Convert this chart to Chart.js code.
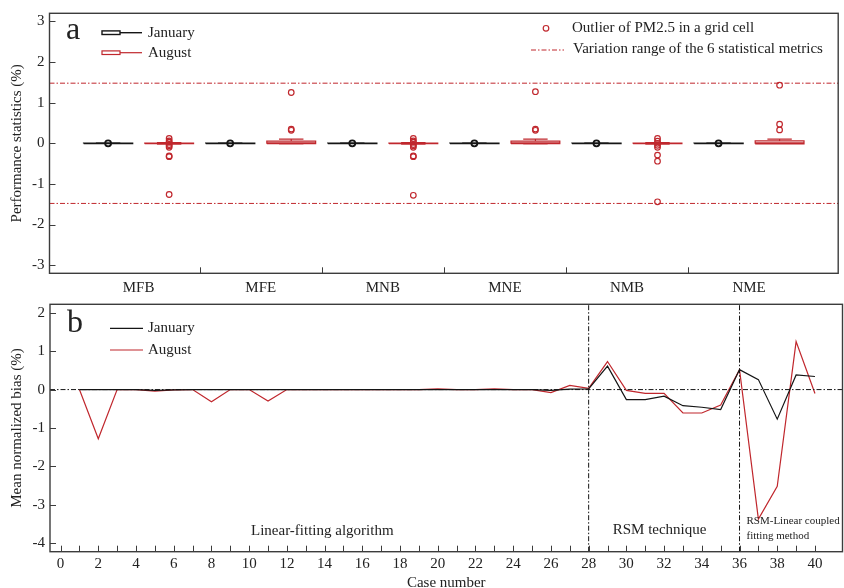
<!DOCTYPE html>
<html><head><meta charset="utf-8">
<script src="https://cdn.jsdelivr.net/npm/chart.js@4.4.1/dist/chart.umd.min.js"></script>
<style>
html,body{margin:0;padding:0;background:#fff;overflow:hidden;}
#wrap{position:relative;width:844px;height:588px;overflow:hidden;}
#c1{position:absolute;left:0;top:0;}
#c2{position:absolute;left:0;top:296px;}
</style></head><body>
<div id="wrap">
<canvas id="c1" width="844" height="296"></canvas>
<canvas id="c2" width="844" height="300"></canvas>
</div>
<script>
// ---------------- DATA: panel a (box plots) ----------------
const metrics = ['MFB','MFE','MNB','MNE','NMB','NME'];
const janLow  = [-0.006,-0.006,-0.006,-0.006,-0.006,-0.006];
const janQ1   = [-0.003,-0.003,-0.003,-0.003,-0.003,-0.003];
const janMed  = [0,0,0,0,0,0];
const janQ3   = [0.003,0.003,0.003,0.003,0.003,0.003];
const janHigh = [0.006,0.006,0.006,0.006,0.006,0.006];
const janOutliers = [[0],[0],[0],[0],[0],[0]];
const augLow  = [-0.02,-0.012,-0.02,-0.012,-0.02,-0.015];
const augQ1   = [-0.008,-0.01,-0.008,-0.01,-0.008,-0.012];
const augMed  = [0,0.012,0,0.012,0,0.012];
const augQ3   = [0.008,0.055,0.008,0.055,0.008,0.06];
const augHigh = [0.02,0.105,0.02,0.105,0.02,0.105];
const augOutliers = [
  [0.12,0.06,0.03,-0.03,-0.06,-0.1,-0.31,-0.33,-1.26],
  [1.25,0.35,0.32],
  [0.12,0.06,0.03,-0.03,-0.06,-0.1,-0.31,-0.33,-1.28],
  [1.27,0.35,0.32],
  [0.12,0.05,0,-0.05,-0.1,-0.29,-0.44,-1.44],
  [1.43,0.47,0.33]
];
const rangeLimits = [1.48,-1.48];
const yTicksA = [-3,-2,-1,0,1,2,3];

// ---------------- DATA: panel b (lines) ----------------
const caseNumbers = [1,2,3,4,5,6,7,8,9,10,11,12,13,14,15,16,17,18,19,20,21,22,23,24,25,26,27,28,29,30,31,32,33,34,35,36,37,38,39,40];
const janMNB = [0,0,0,0,-0.02,-0.01,0,0,0,0, 0,0,0,0,0,0,0,0,0,0, 0,0,0,0,0,-0.02,0.01,0.02,0.61,-0.26, -0.26,-0.17,-0.42,-0.46,-0.52,0.52,0.26,-0.77,0.38,0.34];
const augMNB = [0,-1.28,0,0,-0.04,-0.01,0,-0.32,0,0, -0.3,0,0,0,0,0,0,0,0,0.02, 0,0,0.02,0,0,-0.08,0.11,0.03,0.73,-0.02, -0.1,-0.1,-0.61,-0.61,-0.4,0.52,-3.37,-2.52,1.25,-0.1];
const methodBoundaries = [28,36];
const methodNames = ['Linear-fitting algorithm','RSM technique','RSM-Linear coupled','fitting method'];
const yTicksB = [-4,-3,-2,-1,0,1,2];

// ---------------- STYLE ----------------
const RED = '#c0272d', BLACK = '#151515', FRAME = '#3c3c3c', TXT = '#222';
const FONT = '"Liberation Serif","Times New Roman",serif';
Chart.defaults.font.family = FONT;
Chart.defaults.font.size = 15;
Chart.defaults.color = TXT;
const DASHDOT = [5,2,1.5,2];
const BOX_HALF = 0.2, CAP_HALF = 0.1, PAIR_OFF = 0.25;
const XA_MIN = 0.27, XA_MAX = 6.73;
const XB_MIN = -0.56, XB_MAX = 41.46;

function boxPath(off, low, q1, med, q3, high){
  const pts = [];
  metrics.forEach((m,i)=>{
    const c = i + 1 + off, gap = {x:c, y:null};
    pts.push({x:c-BOX_HALF,y:q1[i]},{x:c+BOX_HALF,y:q1[i]},{x:c+BOX_HALF,y:q3[i]},{x:c-BOX_HALF,y:q3[i]},{x:c-BOX_HALF,y:q1[i]},gap);
    pts.push({x:c-BOX_HALF,y:med[i]},{x:c+BOX_HALF,y:med[i]},gap);
    pts.push({x:c,y:q3[i]},{x:c,y:high[i]},gap,{x:c-CAP_HALF,y:high[i]},{x:c+CAP_HALF,y:high[i]},gap);
    pts.push({x:c,y:q1[i]},{x:c,y:low[i]},gap,{x:c-CAP_HALF,y:low[i]},{x:c+CAP_HALF,y:low[i]},gap);
  });
  return pts;
}
function outlierPts(off, arr){
  const pts = [];
  arr.forEach((vals,i)=>vals.forEach(v=>pts.push({x:i+1+off,y:v})));
  return pts;
}
function noPad(s){ s.paddingTop = 0; s.paddingBottom = 0; s.paddingLeft = 0; s.paddingRight = 0; }

// plugin: frame + inward ticks + notes/legend
const decor = {
  id:'decor',
  afterDraw(chart, args, o){
    const {ctx, chartArea:a} = chart;
    ctx.save();
    ctx.strokeStyle = FRAME; ctx.lineWidth = 1;
    const ys = chart.scales.y, xs = chart.scales.x;
    (o.yTicks||[]).forEach(v=>{const p=Math.round(ys.getPixelForValue(v))+0.5; ctx.beginPath(); ctx.moveTo(a.left,p); ctx.lineTo(a.left+o.len,p); ctx.stroke();});
    (o.xTicks||[]).forEach(v=>{const p=Math.round(xs.getPixelForValue(v))+0.5; ctx.beginPath(); ctx.moveTo(p,a.bottom); ctx.lineTo(p,a.bottom-o.len); ctx.stroke();});
    ctx.lineWidth = 1.4; ctx.strokeStyle = FRAME;
    ctx.strokeRect(a.left, a.top, a.right-a.left, a.bottom-a.top);
    (o.glyphs||[]).forEach(g=>{
      ctx.strokeStyle = g.color; ctx.lineWidth = g.lw||1.2; ctx.setLineDash(g.dash||[]);
      if (g.type==='line'){ctx.beginPath(); ctx.moveTo(g.x1,g.y); ctx.lineTo(g.x2,g.y); ctx.stroke();}
      if (g.type==='box'){ctx.strokeRect(g.x1,g.y-1.8,g.bw,3.6); ctx.beginPath(); ctx.moveTo(g.x1+g.bw,g.y); ctx.lineTo(g.x2,g.y); ctx.stroke();}
      if (g.type==='circle'){ctx.beginPath(); ctx.arc(g.x1,g.y,2.8,0,Math.PI*2); ctx.stroke();}
      ctx.setLineDash([]);
    });
    (o.notes||[]).forEach(n=>{
      ctx.fillStyle = TXT; ctx.font = (n.size||15)+'px '+FONT;
      ctx.textAlign = n.align||'left'; ctx.textBaseline = n.base||'middle';
      ctx.fillText(n.text, n.x, n.y);
    });
    ctx.restore();
  }
};

// ---------------- Chart a ----------------
new Chart(document.getElementById('c1'), {
  type:'scatter',
  data:{datasets:[
    ...rangeLimits.map(v=>({type:'line',data:[{x:XA_MIN,y:v},{x:XA_MAX,y:v}],borderColor:RED,borderWidth:1,borderDash:DASHDOT,pointRadius:0,showLine:true})),
    {label:'January',data:boxPath(-PAIR_OFF,janLow,janQ1,janMed,janQ3,janHigh),showLine:true,borderColor:BLACK,borderWidth:1.6,pointRadius:0,spanGaps:false},
    {label:'August',data:boxPath(PAIR_OFF,augLow,augQ1,augMed,augQ3,augHigh),showLine:true,borderColor:RED,borderWidth:1.2,pointRadius:0,spanGaps:false},
    {label:'Jan outliers',data:outlierPts(-PAIR_OFF,janOutliers),pointStyle:'circle',pointRadius:3,pointBorderWidth:1.8,borderColor:BLACK,backgroundColor:'rgba(0,0,0,0)'},
    {label:'Outlier of PM2.5 in a grid cell',data:outlierPts(PAIR_OFF,augOutliers),pointStyle:'circle',pointRadius:2.8,pointBorderWidth:1.2,borderColor:RED,backgroundColor:'rgba(0,0,0,0)'}
  ]},
  options:{
    responsive:false, animation:false, events:[],
    layout:{padding:{left:0,top:13.3,right:4.7,bottom:0}},
    plugins:{legend:{display:false},tooltip:{enabled:false},
      decor:{len:6, yTicks:yTicksA, xTicks:metrics.slice(1).map((m,i)=>i+1.5),
        glyphs:[
          {type:'box',color:BLACK,x1:102,bw:18,x2:142,y:32.7,lw:1.4},
          {type:'box',color:RED,x1:102,bw:18,x2:142,y:52.7,lw:1.2},
          {type:'circle',color:RED,x1:546,y:28.3,lw:1.2},
          {type:'line',color:RED,x1:531,x2:564,y:50,lw:1,dash:DASHDOT}
        ],
        notes:[
          {text:'a',x:66,y:38.5,size:32,base:'alphabetic'},
          {text:'January',x:148,y:32.7},
          {text:'August',x:148,y:52.7},
          {text:'Outlier of PM2.5 in a grid cell',x:572,y:28},
          {text:'Variation range of the 6 statistical metrics',x:573,y:49.5}
        ]}},
    scales:{
      x:{type:'linear',min:XA_MIN,max:XA_MAX,
        afterFit(s){s.height=22.7; noPad(s);},
        afterBuildTicks(s){s.ticks = metrics.map((m,i)=>({value:i+1}));},
        grid:{display:false,drawTicks:false},border:{display:false},
        ticks:{padding:6,autoSkip:false,maxRotation:0,callback:v=>metrics[v-1]}},
      y:{min:-3.2,max:3.2,
        afterFit(s){s.width=49.5; noPad(s);},
        grid:{display:false,drawTicks:false},border:{display:false},
        ticks:{stepSize:1,includeBounds:false,padding:5},
        title:{display:true,text:'Performance statistics (%)',padding:{top:8,bottom:0}}}
    }
  },
  plugins:[decor]
});

// ---------------- Chart b ----------------
new Chart(document.getElementById('c2'), {
  type:'scatter',
  data:{datasets:[
    {type:'line',data:[{x:XB_MIN,y:0},{x:XB_MAX,y:0}],borderColor:BLACK,borderWidth:1,borderDash:DASHDOT,pointRadius:0,showLine:true},
    ...methodBoundaries.map(v=>({type:'line',data:[{x:v,y:-4.22},{x:v,y:2.22}],borderColor:BLACK,borderWidth:1,borderDash:DASHDOT,pointRadius:0,showLine:true})),
    {label:'January',data:caseNumbers.map((c,i)=>({x:c,y:janMNB[i]})),showLine:true,borderColor:BLACK,borderWidth:1.2,pointRadius:0,tension:0},
    {label:'August',data:caseNumbers.map((c,i)=>({x:c,y:augMNB[i]})),showLine:true,borderColor:RED,borderWidth:1.2,pointRadius:0,tension:0}
  ]},
  options:{
    responsive:false, animation:false, events:[],
    layout:{padding:{left:0,top:8.3,right:1.5,bottom:0}},
    plugins:{legend:{display:false},tooltip:{enabled:false},
      decor:{len:6, yTicks:yTicksB, xTicks:[0].concat(caseNumbers),
        glyphs:[
          {type:'line',color:BLACK,x1:110,x2:143,y:32.3,lw:1.2},
          {type:'line',color:RED,x1:110,x2:143,y:54,lw:1.2}
        ],
        notes:[
          {text:'b',x:67,y:35.7,size:32,base:'alphabetic'},
          {text:'January',x:148,y:32.3},
          {text:'August',x:148,y:54},
          {text:methodNames[0],x:251,y:234.7},
          {text:methodNames[1],x:612.7,y:234},
          {text:methodNames[2],x:746.5,y:225,size:11},
          {text:methodNames[3],x:746.5,y:239.7,size:11}
        ]}},
    scales:{
      x:{type:'linear',min:XB_MIN,max:XB_MAX,
        afterFit(s){s.height=44.3; noPad(s);},
        grid:{display:false,drawTicks:false},border:{display:false},
        ticks:{stepSize:1,includeBounds:false,padding:3,autoSkip:false,maxRotation:0,callback:v=>(v%2===0?String(v):'')},
        title:{display:true,text:'Case number',padding:{top:0,bottom:4.3}}},
      y:{min:-4.22,max:2.22,
        afterFit(s){s.width=50; noPad(s);},
        grid:{display:false,drawTicks:false},border:{display:false},
        ticks:{stepSize:1,includeBounds:false,padding:5},
        title:{display:true,text:'Mean normalized bias (%)',padding:{top:8,bottom:0}}}
    }
  },
  plugins:[decor]
});
</script>
</body></html>
